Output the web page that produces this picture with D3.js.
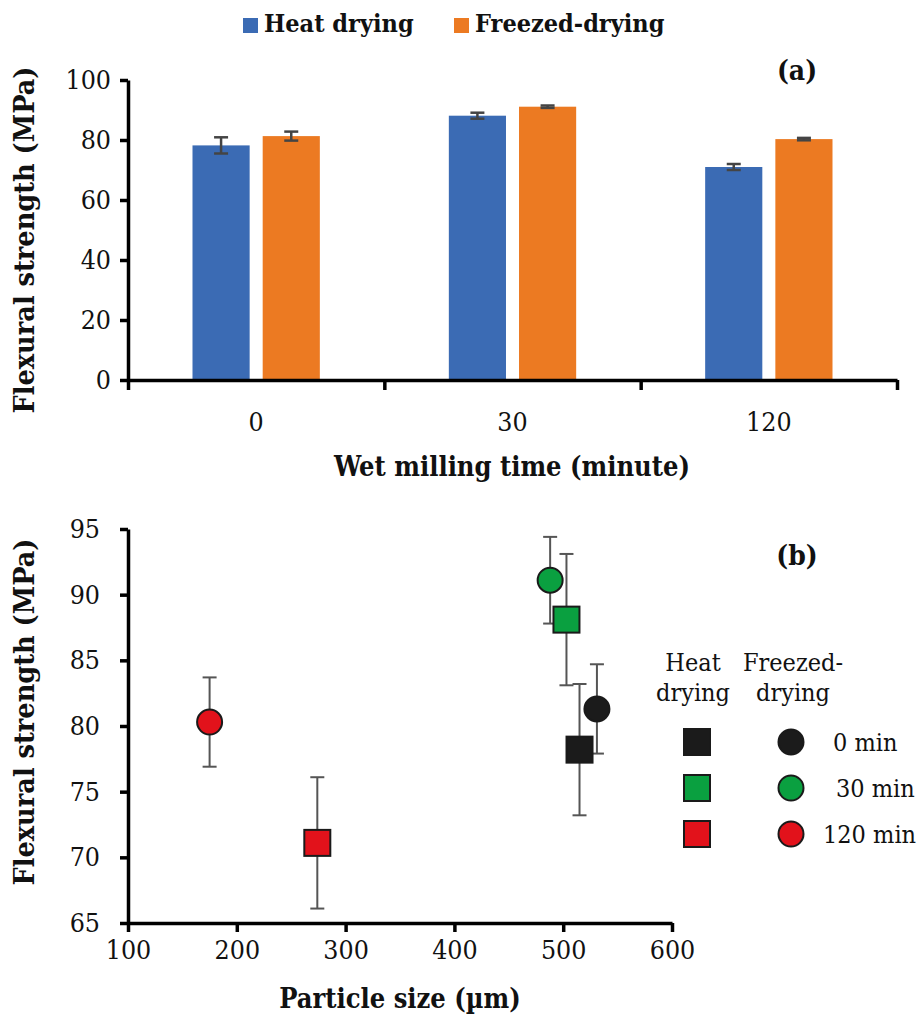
<!DOCTYPE html>
<html lang="en">
    <head>
        <meta charset="utf-8">
        <title>D3</title>
        <script type="text/javascript" src="https://cdnjs.cloudflare.com/ajax/libs/d3/7.8.5/d3.min.js"></script>
        <style type="text/css">
            body { margin: 0; background: #fff; }
        </style>
    </head>
    <body>
        <script type="text/javascript">
            var w = 920;
            var h = 1025;
            var serif = "'DejaVu Serif Condensed', 'DejaVu Serif'";

            // (a) bar chart data
            var categories = ["0", "30", "120"];
            var heatMeans = [78.2, 88.1, 71.0];
            var heatErr = [2.7, 1.0, 1.0];
            var freezeMeans = [81.3, 91.1, 80.3];
            var freezeErr = [1.5, 0.4, 0.4];
            var yTicksA = [0, 20, 40, 60, 80, 100];

            // (b) scatter data
            var sizeHeat = [515, 503, 274];
            var strengthHeat = [78.2, 88.1, 71.1];
            var errHeat = [5.0, 5.0, 5.0];
            var sizeFreeze = [531, 488, 175];
            var strengthFreeze = [81.3, 91.1, 80.3];
            var errFreeze = [3.4, 3.3, 3.4];
            var groupLabels = ["0 min", "30 min", "120 min"];
            var groupColors = ["#1b1b1b", "#0aa040", "#e2121b"];
            var xTicksB = [100, 200, 300, 400, 500, 600];
            var yTicksB = [65, 70, 75, 80, 85, 90, 95];

            var blue = "#3b6bb4";
            var orange = "#ec7a22";

            var svg = d3.select("body")
                        .append("svg")
                        .attr("width", w)
                        .attr("height", h);

            function styleAxis(g) {
                g.selectAll("path.domain").attr("stroke", "#000").attr("stroke-width", 3.5);
                g.selectAll(".tick line").attr("stroke", "#000").attr("stroke-width", 3.5);
                g.selectAll("text").attr("font-size", 26.5).attr("fill", "#111")
                 .attr("font-family", serif);
            }

            function label(x, y, txt, size, bold, anchor) {
                return svg.append("text")
                   .attr("x", x).attr("y", y)
                   .attr("text-anchor", anchor || "middle")
                   .attr("font-family", serif)
                   .attr("font-size", size)
                   .attr("font-weight", bold ? "bold" : "normal")
                   .attr("fill", "#111")
                   .text(txt);
            }

            // ---------- (a) ----------
            var x0 = d3.scaleBand().domain(categories).range([128, 897]);
            var x1 = d3.scaleBand().domain(["heat", "freeze"])
                       .range([0, x0.bandwidth()])
                       .paddingInner(0.1857).paddingOuter(0.919);
            var yA = d3.scaleLinear().domain([0, 100]).range([380, 80]);

            var rowsA = categories.map(function (c, i) {
                return [
                    {cat: c, key: "heat", v: heatMeans[i], e: heatErr[i], color: blue},
                    {cat: c, key: "freeze", v: freezeMeans[i], e: freezeErr[i], color: orange}
                ];
            }).flat();

            svg.selectAll("rect.bar")
               .data(rowsA)
               .enter()
               .append("rect")
               .attr("class", "bar")
               .attr("x", function (d) { return x0(d.cat) + x1(d.key); })
               .attr("y", function (d) { return yA(d.v); })
               .attr("width", x1.bandwidth())
               .attr("height", function (d) { return yA(0) - yA(d.v); })
               .attr("fill", function (d) { return d.color; });

            var errA = svg.append("g").attr("stroke", "#444").attr("stroke-width", 2.5);
            rowsA.forEach(function (d) {
                var cx = x0(d.cat) + x1(d.key) + x1.bandwidth() / 2;
                errA.append("line").attr("x1", cx).attr("x2", cx)
                    .attr("y1", yA(d.v + d.e)).attr("y2", yA(d.v - d.e));
                [d.v + d.e, d.v - d.e].forEach(function (v) {
                    errA.append("line").attr("x1", cx - 7).attr("x2", cx + 7)
                        .attr("y1", yA(v)).attr("y2", yA(v));
                });
            });

            var yAxisA = svg.append("g")
                .attr("transform", "translate(128,0)")
                .call(d3.axisLeft(yA).tickValues(yTicksA).tickSize(8).tickSizeOuter(0).tickPadding(9));
            styleAxis(yAxisA);

            var bounds = d3.scaleLinear().domain([0, categories.length]).range([128, 897]);
            var xAxisA = svg.append("g")
                .attr("transform", "translate(0,380)")
                .call(d3.axisBottom(bounds).tickValues(d3.range(categories.length + 1))
                        .tickFormat("").tickSize(10).tickSizeOuter(0));
            styleAxis(xAxisA);

            var xLabelsA = svg.append("g")
                .attr("transform", "translate(0,380)")
                .call(d3.axisBottom(x0).tickSize(0).tickPadding(32));
            xLabelsA.select(".domain").remove();
            styleAxis(xLabelsA);

            label(512, 476, "Wet milling time (minute)", 27, true);
            label(0, 0, "Flexural strength (MPa)", 28.5, true)
               .attr("transform", "translate(34,240) rotate(-90)");
            label(797, 80, "(a)", 28, true);

            // legend (a)
            var legA = [{label: "Heat drying", color: blue, x: 243}, {label: "Freezed-drying", color: orange, x: 454}];
            legA.forEach(function (d) {
                svg.append("rect").attr("x", d.x).attr("y", 18).attr("width", 15).attr("height", 15)
                   .attr("fill", d.color);
                label(d.x + 21, 32, d.label, 25, true, "start");
            });

            // ---------- (b) ----------
            var xB = d3.scaleLinear().domain([100, 600]).range([128, 672]);
            var yB = d3.scaleLinear().domain([65, 95]).range([923, 529]);

            var heatPts = sizeHeat.map(function (s, i) {
                return {x: s, y: strengthHeat[i], e: errHeat[i], color: groupColors[i]};
            });
            var freezePts = sizeFreeze.map(function (s, i) {
                return {x: s, y: strengthFreeze[i], e: errFreeze[i], color: groupColors[i]};
            });

            var errB = svg.append("g").attr("stroke", "#555").attr("stroke-width", 2);
            heatPts.concat(freezePts).forEach(function (d) {
                var cx = xB(d.x);
                errB.append("line").attr("x1", cx).attr("x2", cx)
                    .attr("y1", yB(d.y + d.e)).attr("y2", yB(d.y - d.e));
                [d.y + d.e, d.y - d.e].forEach(function (v) {
                    errB.append("line").attr("x1", cx - 7).attr("x2", cx + 7)
                        .attr("y1", yB(v)).attr("y2", yB(v));
                });
            });

            svg.selectAll("circle.fz")
               .data(freezePts)
               .enter()
               .append("circle")
               .attr("class", "fz")
               .attr("cx", function (d) { return xB(d.x); })
               .attr("cy", function (d) { return yB(d.y); })
               .attr("r", 12.5)
               .attr("fill", function (d) { return d.color; })
               .attr("stroke", "#1a1a1a")
               .attr("stroke-width", 2);

            svg.selectAll("rect.ht")
               .data(heatPts)
               .enter()
               .append("rect")
               .attr("class", "ht")
               .attr("x", function (d) { return xB(d.x) - 13; })
               .attr("y", function (d) { return yB(d.y) - 13; })
               .attr("width", 26)
               .attr("height", 26)
               .attr("fill", function (d) { return d.color; })
               .attr("stroke", "#1a1a1a")
               .attr("stroke-width", 2);

            var yAxisB = svg.append("g")
                .attr("transform", "translate(128,0)")
                .call(d3.axisLeft(yB).tickValues(yTicksB).tickSize(8).tickSizeOuter(0).tickPadding(20));
            styleAxis(yAxisB);

            var xAxisB = svg.append("g")
                .attr("transform", "translate(0,923)")
                .call(d3.axisBottom(xB).tickValues(xTicksB).tickSize(9).tickSizeOuter(0).tickPadding(8));
            styleAxis(xAxisB);

            label(400, 1008, "Particle size (\u00b5m)", 27, true);
            label(0, 0, "Flexural strength (MPa)", 28.5, true)
               .attr("transform", "translate(34,712) rotate(-90)");
            label(797, 565, "(b)", 28, true);

            // legend (b)
            [["Heat", "drying"], ["Freezed-", "drying"]].forEach(function (lines, j) {
                lines.forEach(function (t, k) {
                    label(j === 0 ? 693 : 793, 671 + k * 30, t, 25, false);
                });
            });
            var legRowY = [742, 788, 834];
            var legTextX = [833, 836, 823];
            groupLabels.forEach(function (lab, i) {
                svg.append("rect").attr("x", 684).attr("y", legRowY[i] - 13)
                   .attr("width", 26).attr("height", 26)
                   .attr("fill", groupColors[i]).attr("stroke", "#1a1a1a").attr("stroke-width", 2);
                svg.append("circle").attr("cx", 791).attr("cy", legRowY[i]).attr("r", 12.5)
                   .attr("fill", groupColors[i]).attr("stroke", "#1a1a1a").attr("stroke-width", 2);
                label(legTextX[i], legRowY[i] + 9, lab, 25, false, "start");
            });
        </script>
    </body>
</html>
